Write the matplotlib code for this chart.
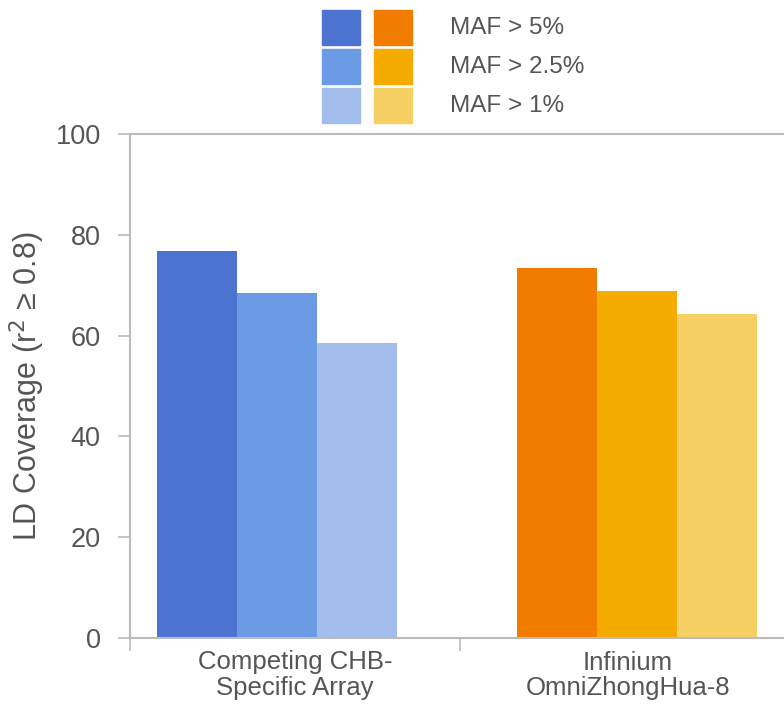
import numpy as np
import matplotlib.pyplot as plt
from matplotlib.patches import Rectangle

plt.rcParams['font.family'] = ['Liberation Sans', 'DejaVu Sans']

categories = ['Competing CHB-\nSpecific Array', 'Infinium\nOmniZhongHua-8']
maf_labels = ['MAF > 5%', 'MAF > 2.5%', 'MAF > 1%']
competing = [76.7, 68.4, 58.6]
omni = [73.5, 68.8, 64.2]
blue_colors = ['#4d73d0', '#6a9be4', '#a3bdec']
orange_colors = ['#f27c00', '#f5ab00', '#f6d063']
yticks = [0, 20, 40, 60, 80, 100]

text_color = '#555555'
axis_color = '#bbbbbb'

fig = plt.figure(figsize=(7.84, 7.10), dpi=100)
ax = fig.add_axes([130 / 784, 72 / 710, 1 - 130 / 784, 504 / 710])

x = np.arange(len(categories))
width = 0.222
for i in range(3):
    ax.bar(x[0] + (i - 1) * width, competing[i], width, color=blue_colors[i])
    ax.bar(x[1] + (i - 1) * width, omni[i], width, color=orange_colors[i])

ax.set_xlim(-0.408, 1.408)
ax.set_ylim(0, 100)

ax.spines['right'].set_visible(False)
for s in ['left', 'top', 'bottom']:
    ax.spines[s].set_color(axis_color)
    ax.spines[s].set_linewidth(1.5)

ax.set_yticks(yticks)
ax.tick_params(axis='y', length=9, width=1.2, color=axis_color, pad=12,
               labelsize=19.5, labelcolor=text_color)
ax.set_xticks([-0.408, 0.508])
ax.set_xticklabels(['', ''])
ax.tick_params(axis='x', which='major', length=9, width=1.2, color=axis_color)
ax.set_xticks([0.05, 0.975], minor=True)
ax.set_xticklabels(categories, minor=True)
ax.tick_params(axis='x', which='minor', length=0, pad=9, labelsize=18.5,
               labelcolor=text_color)
for lab in ax.get_xticklabels(minor=True):
    lab.set_linespacing(1.08)

ax.set_ylabel('LD Coverage (r$^2$ ≥ 0.8)', fontsize=22, color=text_color, labelpad=6)

# legend: two colour columns and one text column
for i, lab in enumerate(maf_labels):
    y0 = 710 - 45 - i * 39
    fig.add_artist(Rectangle((322 / 784, y0 / 710), 38 / 784, 35 / 710,
                             transform=fig.transFigure, color=blue_colors[i]))
    fig.add_artist(Rectangle((374 / 784, y0 / 710), 38 / 784, 35 / 710,
                             transform=fig.transFigure, color=orange_colors[i]))
    fig.text(450 / 784, (y0 + 17) / 710, lab, fontsize=17.5, color=text_color,
             va='center', ha='left')

fig.savefig('out.png', dpi=100)
